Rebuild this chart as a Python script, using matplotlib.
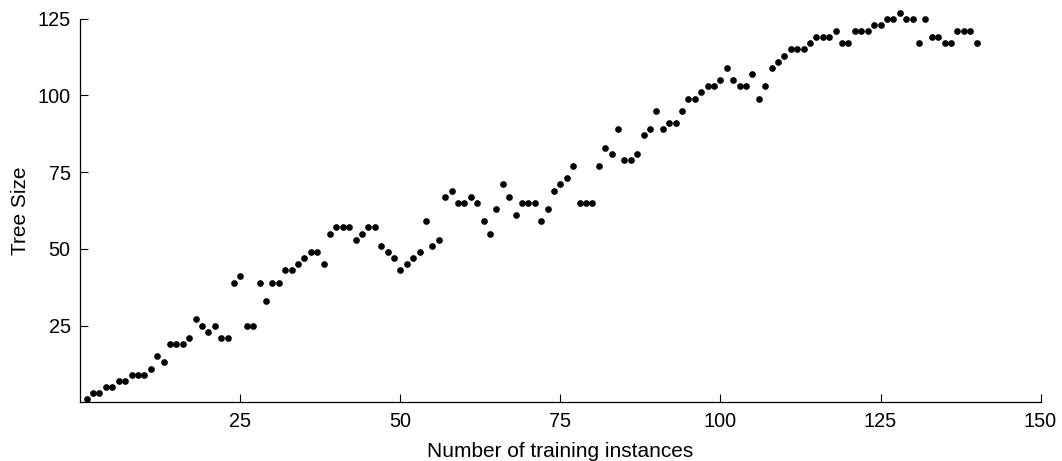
import matplotlib
matplotlib.use("Agg")
from matplotlib import pyplot as plt

plt.rcParams['font.family'] = ['Liberation Sans', 'DejaVu Sans']

# training set sizes 1..140
instances = list(range(1, 141))
tree_size = [1, 3, 3, 5, 5, 7, 7, 9, 9, 9,
             11, 15, 13, 19, 19, 19, 21, 27, 25, 23,
             25, 21, 21, 39, 41, 25, 25, 39, 33, 39,
             39, 43, 43, 45, 47, 49, 49, 45, 55, 57,
             57, 57, 53, 55, 57, 57, 51, 49, 47, 43,
             45, 47, 49, 59, 51, 53, 67, 69, 65, 65,
             67, 65, 59, 55, 63, 71, 67, 61, 65, 65,
             65, 59, 63, 69, 71, 73, 77, 65, 65, 65,
             77, 83, 81, 89, 79, 79, 81, 87, 89, 95,
             89, 91, 91, 95, 99, 99, 101, 103, 103, 105,
             109, 105, 103, 103, 107, 99, 103, 109, 111, 113,
             115, 115, 115, 117, 119, 119, 119, 121, 117, 117,
             121, 121, 121, 123, 123, 125, 125, 127, 125, 125,
             117, 125, 119, 119, 117, 117, 121, 121, 121, 117]

xticks = [25, 50, 75, 100, 125, 150]
yticks = [25, 50, 75, 100, 125]

fig = plt.figure(figsize=(10.62, 4.61), dpi=100)
ax = fig.add_axes([0.0756, 0.1273, 0.9042, 0.8321])

ax.plot(instances, tree_size, 'o', color='black', markersize=3.8, clip_on=False)

ax.set_xlim(0, 150)
ax.set_ylim(0, 125)
ax.set_xticks(xticks)
ax.set_yticks(yticks)
ax.tick_params(direction='in', length=5.5, width=0.8, labelsize=14.3, pad=7)

for side in ['top', 'right']:
    ax.spines[side].set_visible(False)
for side in ['left', 'bottom']:
    ax.spines[side].set_linewidth(0.9)

ax.set_xlabel("Number of training instances", fontsize=15, labelpad=8)
ax.set_ylabel("Tree Size", fontsize=15, labelpad=5)

fig.savefig("out.png", dpi=100)
